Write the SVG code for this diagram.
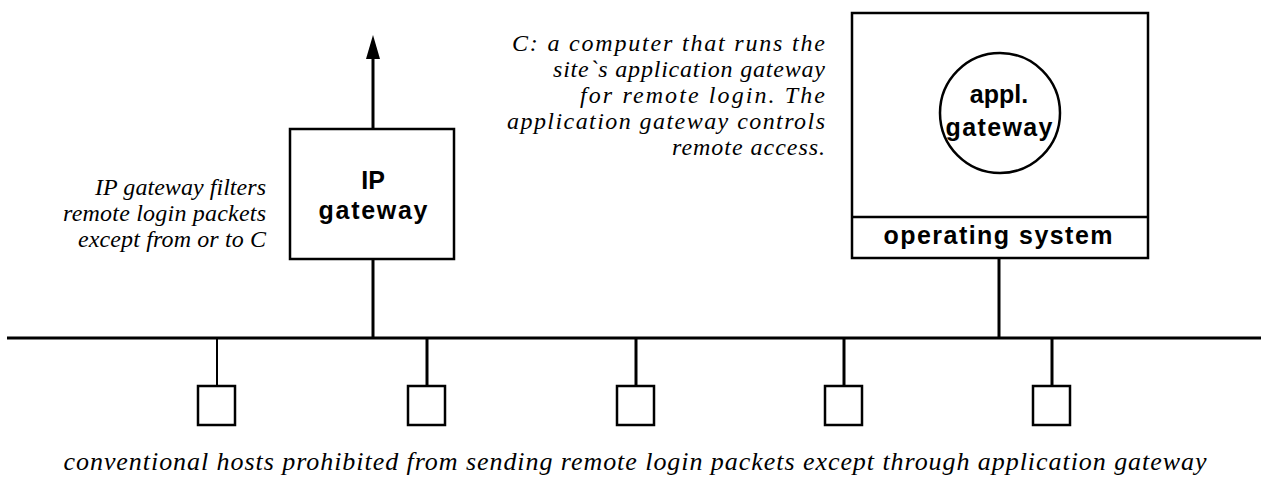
<svg xmlns="http://www.w3.org/2000/svg" width="1261" height="491" viewBox="0 0 1261 491">
<style>
.ln{stroke:#000;stroke-width:3;fill:none}
.box{stroke:#000;stroke-width:2.5;fill:#fff}
.lbl{font-family:"Liberation Sans",Arial,sans-serif;font-weight:bold;font-size:25px;fill:#000;text-anchor:middle}
.it{font-family:"Liberation Serif","Times New Roman",serif;font-style:italic;font-size:24px;fill:#000}
.cap{font-size:26px}
.r{text-anchor:end}
</style>
<rect width="1261" height="491" fill="#fff"/>
<g id="connectors">
<line class="ln" x1="7" y1="338" x2="1261" y2="338"/>
<line class="ln" x1="373" y1="129" x2="373" y2="56"/>
<polygon points="373,35 380,59 366,59" fill="#000"/>
<line class="ln" x1="373" y1="259" x2="373" y2="338"/>
<line class="ln" x1="999" y1="173" x2="999" y2="217"/>
<line class="ln" x1="999" y1="258" x2="999" y2="338"/>
<line class="ln" x1="217" y1="338" x2="217" y2="386" style="stroke-width:2"/>
<line class="ln" x1="427" y1="338" x2="427" y2="386"/>
<line class="ln" x1="636" y1="338" x2="636" y2="386"/>
<line class="ln" x1="844" y1="338" x2="844" y2="386"/>
<line class="ln" x1="1052" y1="338" x2="1052" y2="386"/>
</g>
<g id="ip-gateway">
<rect class="box" x="290" y="129" width="164" height="130"/>
<text class="lbl" x="373" y="189">IP</text>
<text class="lbl" x="373" y="219" textLength="109" lengthAdjust="spacing">gateway</text>
</g>
<g id="computer-c">
<rect class="box" x="852" y="13" width="296" height="245"/>
<line class="ln" x1="852" y1="217" x2="1148" y2="217" style="stroke-width:2.5"/>
<circle class="box" cx="1000" cy="113" r="60"/>
<text class="lbl" x="999" y="103">appl.</text>
<text class="lbl" x="999" y="136" textLength="107" lengthAdjust="spacing">gateway</text>
<text class="lbl" x="998" y="244" textLength="229" lengthAdjust="spacing">operating system</text>
</g>
<g id="host1"><rect class="box" x="198" y="386" width="37" height="39"/></g>
<g id="host2"><rect class="box" x="408" y="386" width="37" height="39"/></g>
<g id="host3"><rect class="box" x="617" y="386" width="37" height="39"/></g>
<g id="host4"><rect class="box" x="825" y="386" width="37" height="39"/></g>
<g id="host5"><rect class="box" x="1033" y="386" width="37" height="39"/></g>
<g id="note-ip">
<text class="it r" x="266" y="195" textLength="171" lengthAdjust="spacing">IP gateway filters</text>
<text class="it r" x="266" y="221" textLength="203" lengthAdjust="spacing">remote login packets</text>
<text class="it r" x="266" y="247" textLength="188" lengthAdjust="spacing">except from or to C</text>
</g>
<g id="note-c">
<text class="it r" x="825" y="51" textLength="313" lengthAdjust="spacing">C: a computer that runs the</text>
<text class="it r" x="825" y="77" textLength="272" lengthAdjust="spacing">site`s application gateway</text>
<text class="it r" x="825" y="103" textLength="245" lengthAdjust="spacing">for remote login.  The</text>
<text class="it r" x="825" y="129" textLength="318" lengthAdjust="spacing">application gateway controls</text>
<text class="it r" x="825" y="155" textLength="153" lengthAdjust="spacing">remote access.</text>
</g>
<g id="caption">
<text class="it cap" x="635" y="470" text-anchor="middle" textLength="1143" lengthAdjust="spacing">conventional hosts prohibited from sending remote login packets except through application gateway</text>
</g>
</svg>
